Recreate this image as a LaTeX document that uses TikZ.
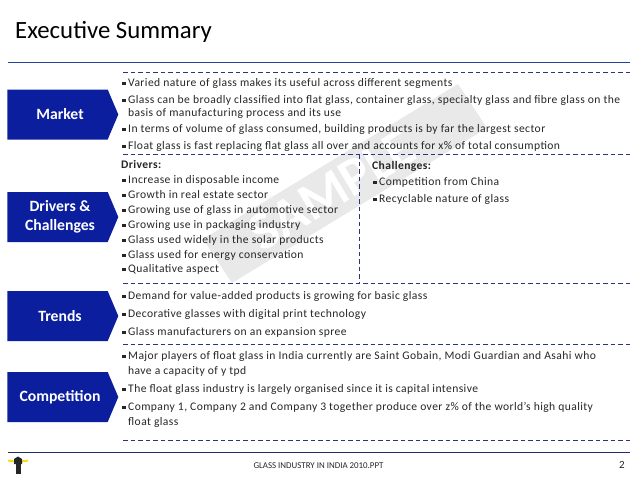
\documentclass[tikz,border=0pt]{standalone}
\usepackage{fontspec}
\usepackage{tikz}
\usetikzlibrary{shapes.symbols}
\setmainfont[LetterSpace=3.5]{Carlito}
\newfontfamily\plainfont{Carlito}
\definecolor{boxblue}{HTML}{0B1E9E}
\definecolor{ruleblue}{HTML}{2A3F9C}
\definecolor{rulenavy}{HTML}{232C70}
\definecolor{dashnavy}{HTML}{2A3480}
\definecolor{bodygrey}{HTML}{262626}
\definecolor{stampgrey}{HTML}{E9E9E9}
\newcommand{\bul}{\llap{\rule[1pt]{3.4pt}{3.4pt}\hspace{2.4pt}}}
\newcommand{\lab}[1]{\hspace*{5pt}#1}
\tikzset{
  label box/.style={signal,signal to=east,signal pointer angle=134,fill=boxblue,text=white,
    minimum width=111pt,minimum height=50pt,inner sep=0pt,align=center,
    font=\plainfont\fontsize{15.7}{19}\selectfont\bfseries},
  item/.style={anchor=base west,inner sep=0pt,align=left,text=bodygrey,
    font=\fontsize{11.6}{13}\selectfont},
  dash rule/.style={draw=dashnavy,line width=0.9pt,dash pattern=on 4.6pt off 2.9pt}
}
\begin{document}
\begin{tikzpicture}[x=1pt,y=-1pt]
  \useasboundingbox (0,0) rectangle (638,479);
  % watermark
  \fill[stampgrey] (232,283) -- (203,239) -- (458,84) -- (487,128) -- cycle;
  \node[rotate=31,text=white,font=\plainfont\fontsize{54}{54}\selectfont\bfseries] (stamp) at (332,190) {SAMPLE};
  % title and rules
  \node[anchor=base west,inner sep=0pt,text=black,font=\plainfont\fontsize{24.8}{28}\selectfont] (title) at (15,38) {Executive Summary};
  \coordinate (topl) at (8,62.5);
  \coordinate (topr) at (630,62.5);
  \coordinate (botl) at (8,452);
  \coordinate (botr) at (630,452);
  \draw[ruleblue,line width=1pt] (topl) -- (topr);
  \draw[rulenavy,line width=1pt] (botl) -- (botr);
  \foreach \name/\ypos in {a/72,b/154,c/283.5,d/344,e/440} {
    \coordinate (\name l) at (123,\ypos);
    \coordinate (\name r) at (630,\ypos);
    \draw[dash rule] (\name l) -- (\name r);
  }
  \coordinate (split) at (359,154);
  \coordinate (splitend) at (359,283.5);
  \draw[dash rule] (split) -- (splitend);
  % left boxes
  \node[label box] (market) at (57.5,114.5) {\lab{Market}};
  \node[label box] (drivers) at (57.5,217) {\lab{Drivers \&}\\\lab{Challenges}};
  \node[label box] (trends) at (57.5,316) {\lab{Trends}};
  \node[label box] (competition) at (57.5,397) {\lab{Competition}};
  % market
  \node[item] (m1) at (128,86) {\bul Varied nature of glass makes its useful across different segments};
  \node[item] (m2) at (128,116) {\bul Glass can be broadly classified into flat glass, container glass, specialty glass and fibre glass on the\\basis of manufacturing process and its use};
  \node[item] (m3) at (128,132) {\bul In terms of volume of glass consumed, building products is by far the largest sector};
  \node[item] (m4) at (128,149) {\bul Float glass is fast replacing flat glass all over and accounts for x\% of total consumption};
  % drivers
  \node[item,font=\fontsize{11.6}{13}\selectfont\bfseries] (d0) at (121,168) {Drivers:};
  \node[item] (d1) at (128,183) {\bul Increase in disposable income};
  \node[item] (d2) at (128,198) {\bul Growth in real estate sector};
  \node[item] (d3) at (128,213) {\bul Growing use of glass in automotive sector};
  \node[item] (d4) at (128,228) {\bul Growing use in packaging industry};
  \node[item] (d5) at (128,243) {\bul Glass used widely in the solar products};
  \node[item] (d6) at (128,258) {\bul Glass used for energy conservation};
  \node[item] (d7) at (128,272) {\bul Qualitative aspect};
  % challenges
  \node[item,font=\fontsize{11.6}{13}\selectfont\bfseries] (c0) at (372,169) {Challenges:};
  \node[item] (c1) at (379,185) {\bul Competition from China};
  \node[item] (c2) at (379,202) {\bul Recyclable nature of glass};
  % trends
  \node[item] (t1) at (128,299) {\bul Demand for value-added products is growing for basic glass};
  \node[item] (t2) at (128,317) {\bul Decorative glasses with digital print technology};
  \node[item] (t3) at (128,335) {\bul Glass manufacturers on an expansion spree};
  % competition
  \node[item,font=\fontsize{11.6}{15}\selectfont] (k1) at (128,374) {\bul Major players of float glass in India currently are Saint Gobain, Modi Guardian and Asahi who\\have a capacity of y tpd};
  \node[item] (k2) at (128,392) {\bul The float glass industry is largely organised since it is capital intensive};
  \node[item,font=\fontsize{11.6}{15}\selectfont] (k3) at (128,425) {\bul Company 1, Company 2 and Company 3 together produce over z\% of the world’s high quality\\float glass};
  % footer
  \node[inner sep=0pt,text=bodygrey,font=\plainfont\fontsize{8.9}{10}\selectfont] (foot) at (318.5,466) {GLASS INDUSTRY IN INDIA 2010.PPT};
  \node[inner sep=0pt,text=bodygrey,font=\plainfont\fontsize{11}{13}\selectfont] (page) at (622,465) {2};
  % lighthouse
  \fill[yellow!80!orange] (8,459.5) -- (15,460.5) -- (15,462.5) -- (8,461.5) -- cycle;
  \fill[yellow!80!orange] (28,459.5) -- (21,460.5) -- (21,462.5) -- (28,461.5) -- cycle;
  \fill[black!85] (14,459) -- (18,456.5) -- (22,459) -- (22,464) -- (14,464) -- cycle;
  \fill[black!85] (15.5,464) rectangle (20.5,474);
\end{tikzpicture}
\end{document}
